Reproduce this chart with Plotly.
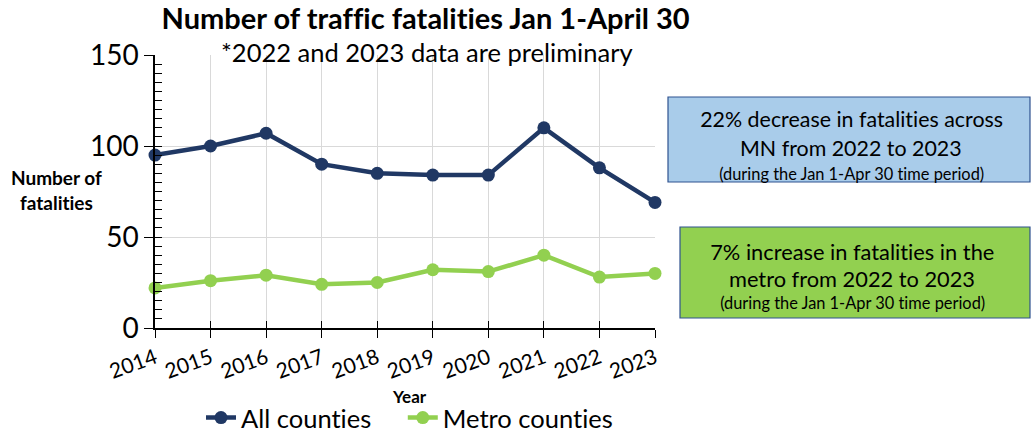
import plotly.graph_objects as go

years = [2014, 2015, 2016, 2017, 2018, 2019, 2020, 2021, 2022, 2023]
all_counties = [95, 100, 107, 90, 85, 84, 84, 110, 88, 69]
metro_counties = [22, 26, 29, 24, 25, 32, 31, 40, 28, 30]

title_text = "Number of traffic fatalities Jan 1-April 30"
subtitle_text = "*2022 and 2023 data are preliminary"
box1_lines = ["22% decrease in fatalities across", "MN from 2022 to 2023",
              "(during the Jan 1-Apr 30 time period)"]
box2_lines = ["7% increase in fatalities in the", "metro from 2022 to 2023",
              "(during the Jan 1-Apr 30 time period)"]

W, H = 1036, 436
FONT = "Lato"
NAVY = "#203864"
GREEN = "#92D050"


def px_x(v):
    return v / W


def px_y(v):
    return 1 - v / H


fig = go.Figure()
fig.add_trace(go.Scatter(
    x=years, y=all_counties, name="All counties    ", mode="lines+markers",
    line=dict(color=NAVY, width=4.5), marker=dict(color=NAVY, size=13),
    cliponaxis=False))
fig.add_trace(go.Scatter(
    x=years, y=metro_counties, name="Metro counties", mode="lines+markers",
    line=dict(color=GREEN, width=4.5), marker=dict(color=GREEN, size=13),
    cliponaxis=False))
# invisible helper trace for the inner tick marks
fig.add_trace(go.Scatter(
    x=years, y=all_counties, xaxis="x2", yaxis="y2", mode="markers",
    marker=dict(opacity=0), showlegend=False, hoverinfo="skip"))

xdom = [px_x(155), px_x(655)]
ydom = [px_y(328), px_y(55)]

fig.update_layout(
    template="none",
    width=W, height=H,
    margin=dict(l=0, r=0, t=0, b=0, autoexpand=False),
    paper_bgcolor="white", plot_bgcolor="white",
    font=dict(family=FONT, color="black"),
    xaxis=dict(domain=xdom, range=[2014, 2023], dtick=1, tick0=2014,
               showgrid=True, gridcolor="#D9D9D9", gridwidth=1,
               showline=True, linecolor="black", linewidth=1.5,
               ticks="outside", ticklen=8, tickcolor="black", tickwidth=1.2,
               tickangle=-20, tickfont=dict(size=21, family=FONT),
               zeroline=False, anchor="y", automargin=False),
    yaxis=dict(domain=ydom, range=[0, 150], dtick=50,
               showgrid=True, gridcolor="#D9D9D9", gridwidth=1,
               showline=True, linecolor="black", linewidth=1.5,
               ticks="outside", ticklen=9, tickcolor="black", tickwidth=1.2,
               tickfont=dict(size=28, family=FONT), zeroline=False,
               anchor="x", automargin=False),
    xaxis2=dict(overlaying="x", anchor="y", range=[2014, 2023], dtick=1,
                tick0=2014, showgrid=False, showline=False, zeroline=False,
                ticks="inside", ticklen=7, tickcolor="black", tickwidth=1.2,
                showticklabels=False, side="bottom", automargin=False),
    yaxis2=dict(overlaying="y", anchor="x", range=[0, 150], dtick=5,
                showgrid=False, showline=False, zeroline=False,
                ticks="inside", ticklen=7, tickcolor="black", tickwidth=1.2,
                showticklabels=False, side="left", automargin=False),
    legend=dict(orientation="h", x=px_x(410), xanchor="center",
                y=px_y(418), yanchor="middle",
                font=dict(size=25.5, family=FONT), itemwidth=30,
                tracegroupgap=0, bgcolor="rgba(0,0,0,0)"),
    showlegend=True,
)

ann = []
ann.append(dict(text="<b>" + title_text + "</b>", x=px_x(425), y=px_y(18),
                font=dict(size=29)))
ann.append(dict(text=subtitle_text, x=px_x(427), y=px_y(52),
                font=dict(size=25.5)))
ann.append(dict(text="<b>Number of<br>fatalities</b>", x=px_x(56),
                y=px_y(190), font=dict(size=19)))
ann.append(dict(text="<b>Year</b>", x=px_x(409), y=px_y(396),
                font=dict(size=17)))

fig.add_shape(type="rect", xref="paper", yref="paper",
              x0=px_x(668), x1=px_x(1030), y0=px_y(182), y1=px_y(97),
              fillcolor="#A9CCEA", line=dict(color="#2F528F", width=1.2))
fig.add_shape(type="rect", xref="paper", yref="paper",
              x0=px_x(680), x1=px_x(1030), y0=px_y(318), y1=px_y(227),
              fillcolor=GREEN, line=dict(color="#2F528F", width=1.2))

for line, yy, sz in zip(box1_lines, [119, 148, 173], [21.4, 21.4, 16.4]):
    ann.append(dict(text=line, x=px_x(851), y=px_y(yy), font=dict(size=sz)))
for line, yy, sz in zip(box2_lines, [251, 278, 302], [21.8, 21.8, 16.4]):
    ann.append(dict(text=line, x=px_x(852), y=px_y(yy), font=dict(size=sz)))

for a in ann:
    a.update(xref="paper", yref="paper", showarrow=False,
             xanchor="center", yanchor="middle")
    a["font"].update(family=FONT, color="black")
fig.update_layout(annotations=ann)

fig.write_html(
    "out.html",
    config={"displayModeBar": False},
    post_script="document.body.style.margin='0';"
                "document.body.style.padding='0';"
                "document.documentElement.style.overflow='hidden';"
                "document.querySelectorAll('text').forEach(function(t){"
                "t.style.fontVariantLigatures='none';});")
